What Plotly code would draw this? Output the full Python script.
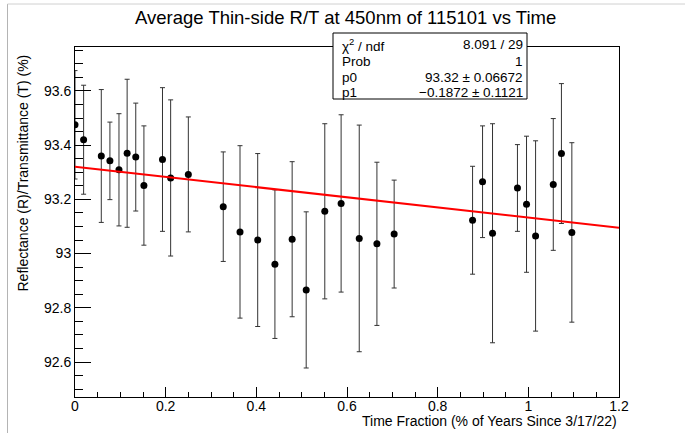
import plotly.graph_objects as go

# ---- data ----
time_frac = [0.0, 0.019, 0.058, 0.077, 0.097, 0.115, 0.134, 0.152, 0.193, 0.211,
             0.250, 0.327, 0.364, 0.403, 0.441, 0.479, 0.510, 0.551, 0.587, 0.627,
             0.666, 0.704, 0.877, 0.899, 0.921, 0.976, 0.996, 1.016, 1.055, 1.073, 1.096]
rt_avg = [93.475, 93.420, 93.360, 93.342, 93.309, 93.370, 93.356, 93.251, 93.347, 93.279,
          93.292, 93.173, 93.080, 93.050, 92.961, 93.053, 92.866, 93.156, 93.185, 93.056,
          93.036, 93.072, 93.123, 93.265, 93.075, 93.242, 93.182, 93.065, 93.255, 93.369, 93.078]
rt_err = [0.20, 0.201, 0.245, 0.143, 0.207, 0.273, 0.199, 0.220, 0.265, 0.288,
          0.212, 0.202, 0.318, 0.319, 0.274, 0.286, 0.288, 0.323, 0.327, 0.418,
          0.301, 0.199, 0.199, 0.206, 0.404, 0.160, 0.251, 0.351, 0.243, 0.258, 0.331]

# fit parameters (pol1)
p0 = 93.32
p1 = -0.1872
fit_x = [0.0, 1.2]

x_tickvals = [0, 0.2, 0.4, 0.6, 0.8, 1.0, 1.2]
x_ticktext = ["0", "0.2", "0.4", "0.6", "0.8", "1", "1.2"]
y_tickvals = [92.6, 92.8, 93.0, 93.2, 93.4, 93.6]
y_ticktext = ["92.6", "92.8", "93", "93.2", "93.4", "93.6"]

stats_labels = ["\u03c7<sup>2</sup> / ndf", "Prob", "p0", "p1"]
stats_values = ["8.091 / 29", "1", "93.32 \u00b1 0.06672", "\u22120.1872 \u00b1 0.1121"]

title_text = "Average Thin-side R/T at 450nm of 115101 vs Time"
x_title = "Time Fraction (% of Years Since 3/17/22)"
y_title = "Reflectance (R)/Transmittance (T) (%)"

FONT = "Liberation Sans, Arial, Helvetica, sans-serif"

fig = go.Figure()

fig.add_trace(go.Scatter(
    x=time_frac, y=rt_avg, mode="markers",
    marker=dict(color="black", size=7),
    error_y=dict(type="data", array=rt_err, visible=True,
                 color="#333333", thickness=1, width=2.5),
    showlegend=False, hoverinfo="x+y"))

fig.add_trace(go.Scatter(
    x=fit_x, y=[p0 + p1 * v for v in fit_x], mode="lines",
    line=dict(color="#ff0000", width=2),
    showlegend=False, hoverinfo="skip"))

W, H = 685, 433
L, R, T, B = 75, 66, 47, 36
pw, ph = W - L - R, H - T - B

def px_x(px):
    return (px - L) / pw

def px_y(py):
    return (H - B - py) / ph

axis_common = dict(
    showline=True, linecolor="black", linewidth=1, mirror=True,
    ticks="inside", tickcolor="black", tickwidth=1,
    showgrid=False, zeroline=False,
    tickfont=dict(family=FONT, size=14, color="black"),
)

fig.update_layout(
    width=W, height=H,
    margin=dict(l=L, r=R, t=T, b=B, pad=0),
    paper_bgcolor="white", plot_bgcolor="white",
    font=dict(family=FONT, color="black"),
    xaxis=dict(range=[0, 1.2], tickmode="array", tickvals=x_tickvals, ticktext=x_ticktext,
               ticklen=10, ticklabelstandoff=-4,
               minor=dict(dtick=0.05, tick0=0, ticklen=5, ticks="inside", tickcolor="black"),
               **axis_common),
    yaxis=dict(range=[92.471, 93.762], tickmode="array", tickvals=y_tickvals, ticktext=y_ticktext,
               ticklen=16,
               minor=dict(dtick=0.05, tick0=92.6, ticklen=8, ticks="inside", tickcolor="black"),
               **axis_common),
)

annotations = [
    dict(text=title_text, xref="paper", yref="paper", x=px_x(345), y=px_y(18),
         xanchor="center", yanchor="middle", showarrow=False,
         font=dict(family=FONT, size=18.5, color="black")),
    dict(text=x_title, xref="paper", yref="paper", x=1.0, y=px_y(421),
         xanchor="right", yanchor="middle", showarrow=False,
         font=dict(family=FONT, size=14, color="black")),
    dict(text=y_title, xref="paper", yref="paper", x=px_x(22), y=px_y(53),
         xanchor="center", yanchor="top", textangle=-90, showarrow=False,
         font=dict(family=FONT, size=14, color="black")),
]

row_y = [45, 61.5, 77.5, 92.5]
for lab, val, ry in zip(stats_labels, stats_values, row_y):
    annotations.append(dict(text=lab, xref="paper", yref="paper", x=px_x(340), y=px_y(ry),
                            xanchor="left", yanchor="middle", showarrow=False,
                            font=dict(family=FONT, size=13.5, color="black")))
    annotations.append(dict(text=val, xref="paper", yref="paper", x=px_x(525), y=px_y(ry),
                            xanchor="right", yanchor="middle", showarrow=False,
                            font=dict(family=FONT, size=13.5, color="black")))

fig.update_layout(annotations=annotations)

fig.add_shape(type="rect", xref="paper", yref="paper",
              x0=px_x(333), x1=px_x(527), y0=px_y(99), y1=px_y(33),
              line=dict(color="black", width=1), fillcolor="white", layer="above")

# thin canvas border seen at the left and top of the reference
fig.add_shape(type="line", xref="paper", yref="paper",
              x0=px_x(7.5), x1=px_x(7.5), y0=px_y(433), y1=px_y(4),
              line=dict(color="#b4b4b4", width=1))
fig.add_shape(type="line", xref="paper", yref="paper",
              x0=px_x(7.5), x1=px_x(685), y0=px_y(4), y1=px_y(4),
              line=dict(color="#d0d0d0", width=1))

fig.write_html("out.html")
